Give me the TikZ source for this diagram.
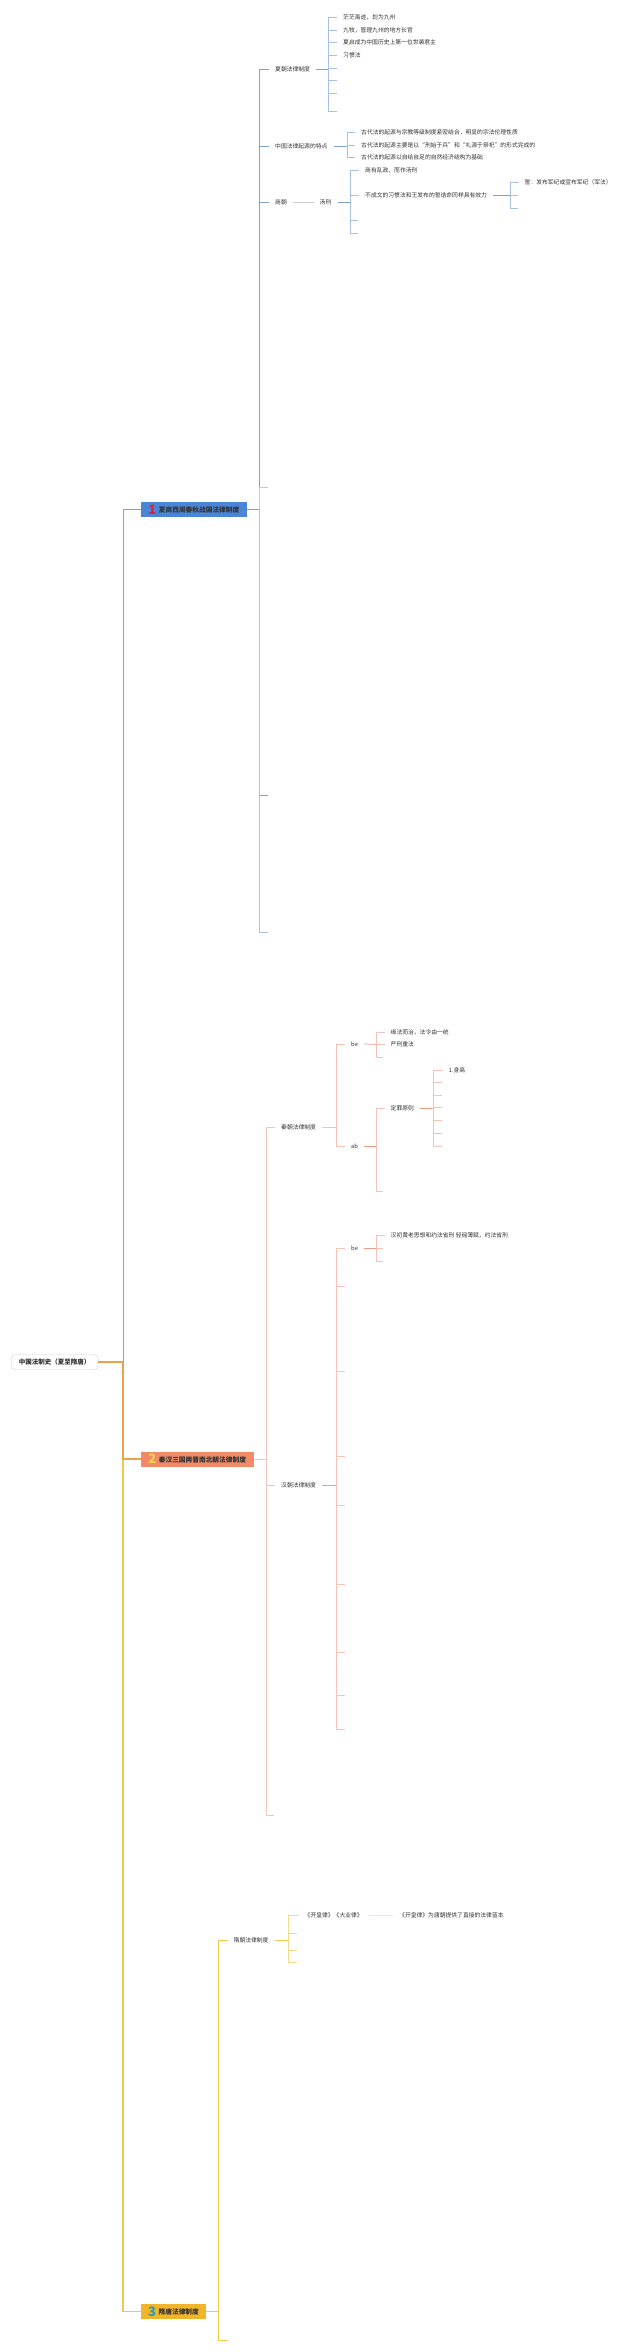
\documentclass[tikz,border=0pt]{standalone}
\usepackage{fontspec}
\setmainfont{Noto Sans CJK SC}
\definecolor{txtc}{HTML}{333333}
\definecolor{rootln}{HTML}{CFCFCF}
\definecolor{blA}{HTML}{7FA3CF}
\definecolor{blB}{HTML}{A6C2E0}
\definecolor{gryl}{HTML}{CCCCCC}
\definecolor{secA}{HTML}{4A86D8}
\definecolor{numA}{HTML}{E0203C}
\definecolor{orA}{HTML}{F0A04B}
\definecolor{pkA}{HTML}{F5C2B8}
\definecolor{pkB}{HTML}{EE9C84}
\definecolor{secB}{HTML}{F08A68}
\definecolor{numB}{HTML}{F9D24C}
\definecolor{ylA}{HTML}{F2C84E}
\definecolor{ylB}{HTML}{F5D98A}
\definecolor{ylC}{HTML}{F9E9B8}
\definecolor{secC}{HTML}{F2B52A}
\definecolor{numC}{HTML}{2A9DB5}
\newcommand{\secnum}[2]{\raisebox{-1.6pt}{\fontsize{13}{13}\selectfont\bfseries\textcolor{#1}{#2}}\hspace{2.5pt}}
\tikzset{%
    lf/.style={anchor=west,inner xsep=6pt,inner ysep=1pt,font=\fontsize{5.8}{7}\selectfont,text=txtc},
    sec/.style={anchor=west,minimum height=15pt,inner xsep=0pt,inner ysep=0pt,font=\fontsize{6.7}{8}\selectfont\bfseries,text=txtc},
    rt/.style={draw=rootln,fill=white,rounded corners=4pt,minimum width=87pt,minimum height=15pt,inner sep=0pt,font=\fontsize{6.5}{8}\selectfont\bfseries,text=txtc},
    bl1/.style={draw=blA,line width=0.8pt},
    bl2/.style={draw=blB,line width=0.7pt},
    gr/.style={draw=gryl,line width=0.7pt},
    pk1/.style={draw=pkA,line width=0.8pt},
    pk2/.style={draw=pkB,line width=0.7pt},
    yl1/.style={draw=ylA,line width=0.8pt},
    yl2/.style={draw=ylB,line width=0.7pt}
}
\begin{document}
\begin{tikzpicture}[x=1pt,y=-1pt]
        \fill[white] (0,0) rectangle (640,2352);
        \useasboundingbox (0,0) rectangle (640,2352);

        \node[rt] (r) at (54.7,1362) {中国法制史（夏至隋唐）};
        \node[sec,fill=secA,minimum width=106pt] (s1) at (140.7,509.3) {\secnum{numA}{1}夏商西周春秋战国法律制度};
        \node[sec,fill=secB,minimum width=112.6pt] (s2) at (140.7,1459) {\secnum{numB}{2}秦汉三国两晋南北朝法律制度};
        \node[sec,fill=secC,minimum width=65.3pt] (s3) at (140.7,2311.5) {\secnum{numC}{3}隋唐法律制度};
        \coordinate (rj) at (123,1362);
        \draw[blA,line width=0.9pt] (rj) |- (s1.west);
        \draw[ylA,line width=1.2pt] (rj) |- (s3.west);
        \draw[orA,line width=2pt] (r.east) -- (rj) |- (s2.west);

        \coordinate (t1) at (259.5,509.3);
        \node[lf] (x1) at (269,69) {夏朝法律制度};
        \node[lf] (x2) at (269,146) {中国法律起源的特点};
        \node[lf] (x3) at (269,202) {商朝};
        \coordinate (x4) at (268,487.7);
        \coordinate (x5) at (268,795);
        \coordinate (x6) at (268,932);
        \draw[bl1] (s1.east) -- (t1);
        \draw[bl1] (t1) |- (x1.west);
        \draw[bl1] (t1) |- (x2.west);
        \draw[bl1] (t1) |- (x3.west);
        \draw[bl1] (t1) |- (x5);
        \draw[bl2] (t1) |- (x6);
        \draw[gr] (t1) |- (x4);

        \coordinate (f1) at (328,69);
        \node[lf] (x11) at (337,17.3) {茫茫禹迹，划为九州};
        \node[lf] (x12) at (337,30) {九牧，管理九州的地方长官};
        \node[lf] (x13) at (337,42.7) {夏启成为中国历史上第一位世袭君主};
        \node[lf] (x14) at (337,55.7) {习惯法};
        \coordinate (x15) at (337,68.3);
        \coordinate (x16) at (337,80.7);
        \coordinate (x17) at (337,93.3);
        \coordinate (x18) at (337,111.7);
        \draw[bl1] (x1.east) -- (f1);
        \draw[bl2] (f1) |- (x11.west);
        \draw[bl2] (f1) |- (x12.west);
        \draw[bl2] (f1) |- (x13.west);
        \draw[bl2] (f1) |- (x14.west);
        \draw[bl2] (f1) |- (x15);
        \draw[bl2] (f1) |- (x16);
        \draw[bl2] (f1) |- (x17);
        \draw[bl2] (f1) |- (x18);

        \coordinate (f2) at (347,146);
        \node[lf] (x21) at (355,132) {古代法的起源与宗教等级制度紧密结合，明显的宗法伦理性质};
        \node[lf] (x22) at (355,145.7) {古代法的起源主要是以“刑始于兵”和“礼源于祭祀”的形式完成的};
        \node[lf] (x23) at (355,157.7) {古代法的起源以自给自足的自然经济结构为基础};
        \draw[bl1] (x2.east) -- (f2);
        \draw[bl2] (f2) |- (x21.west);
        \draw[bl2] (f2) |- (x22.west);
        \draw[bl2] (f2) |- (x23.west);

        \node[lf] (x31) at (313.5,202) {汤刑};
        \draw[gr] (x3.east) -- (x31.west);
        \coordinate (f3) at (350,202);
        \node[lf] (x311) at (359,170.7) {商有乱政，而作汤刑};
        \node[lf] (x312) at (359,195.7) {不成文的习惯法和王发布的誓诰命同样具有效力};
        \coordinate (x313) at (358,220.7);
        \coordinate (x314) at (358,233.3);
        \draw[bl1] (x31.east) -- (f3);
        \draw[bl2] (f3) |- (x311.west);
        \draw[bl2] (f3) |- (x312.west);
        \draw[bl2] (f3) |- (x313);
        \draw[bl2] (f3) |- (x314);

        \coordinate (f4) at (510,195.7);
        \node[lf] (x3121) at (518.5,182.7) {誓：发布军纪或宣布军纪（军法）};
        \coordinate (x3122) at (518,195.7);
        \coordinate (x3123) at (518,208.3);
        \draw[bl1] (x312.east) -- (f4);
        \draw[bl2] (f4) |- (x3121.west);
        \draw[bl2] (f4) |- (x3122);
        \draw[bl2] (f4) |- (x3123);

        \coordinate (t2) at (266,1459);
        \node[lf] (y1) at (275,1127.7) {秦朝法律制度};
        \node[lf] (y2) at (275,1485) {汉朝法律制度};
        \coordinate (y3) at (274,1815.7);
        \draw[pk1] (s2.east) -- (t2);
        \draw[pk1] (t2) |- (y1.west);
        \draw[pk1] (t2) |- (y2.west);
        \draw[pk1] (t2) |- (y3);

        \coordinate (g1) at (336,1127.7);
        \node[lf] (y11) at (345,1044) {be};
        \node[lf] (y12) at (345,1146) {ab};
        \draw[pk1] (y1.east) -- (g1);
        \draw[pk1] (g1) |- (y11.west);
        \draw[pk1] (g1) |- (y12.west);

        \coordinate (g2) at (376,1044.3);
        \node[lf] (y111) at (384.5,1032.3) {缘法而治，法令由一统};
        \node[lf] (y112) at (384.5,1044.3) {严刑重法};
        \coordinate (y113) at (383,1057.3);
        \draw[pk2] (y11.east) -- (g2);
        \draw[pk1] (g2) |- (y111.west);
        \draw[pk1] (g2) |- (y112.west);
        \draw[pk1] (g2) |- (y113);

        \coordinate (g3) at (376,1146);
        \node[lf] (y121) at (384.5,1108.3) {定罪原则};
        \coordinate (y122) at (383,1191);
        \draw[pk2] (y12.east) -- (g3);
        \draw[pk1] (g3) |- (y121.west);
        \draw[pk1] (g3) |- (y122);

        \coordinate (g4) at (433.3,1108.3);
        \node[lf] (y1211) at (442.5,1070) {1.身高};
        \coordinate (y1212) at (441.7,1082.3);
        \coordinate (y1213) at (441.7,1095);
        \coordinate (y1214) at (441.7,1107.7);
        \coordinate (y1215) at (441.7,1120.7);
        \coordinate (y1216) at (441.7,1133.3);
        \coordinate (y1217) at (441.7,1146);
        \draw[pk2] (y121.east) -- (g4);
        \draw[pk1] (g4) |- (y1211.west);
        \draw[pk1] (g4) |- (y1212);
        \draw[pk1] (g4) |- (y1213);
        \draw[pk1] (g4) |- (y1214);
        \draw[pk1] (g4) |- (y1215);
        \draw[pk1] (g4) |- (y1216);
        \draw[pk1] (g4) |- (y1217);

        \coordinate (g5) at (336,1485);
        \node[lf] (y21) at (345,1248.3) {be};
        \coordinate (y22) at (344.5,1286.7);
        \coordinate (y23) at (344.5,1371.7);
        \coordinate (y24) at (344.5,1456.7);
        \coordinate (y25) at (344.5,1505.7);
        \coordinate (y26) at (344.5,1584.3);
        \coordinate (y27) at (344.5,1652.3);
        \coordinate (y28) at (344.5,1695);
        \coordinate (y29) at (344.5,1729);
        \draw[pk2] (y2.east) -- (g5);
        \draw[pk1] (g5) |- (y21.west);
        \draw[pk1] (g5) |- (y22);
        \draw[pk1] (g5) |- (y23);
        \draw[pk1] (g5) |- (y24);
        \draw[pk1] (g5) |- (y25);
        \draw[pk1] (g5) |- (y26);
        \draw[pk1] (g5) |- (y27);
        \draw[pk1] (g5) |- (y28);
        \draw[pk1] (g5) |- (y29);

        \coordinate (g6) at (376,1248.3);
        \node[lf] (y211) at (384.5,1235.7) {汉初黄老思想和约法省刑 轻徭薄赋，约法省刑};
        \coordinate (y212) at (383,1248.3);
        \coordinate (y213) at (383,1261);
        \draw[pk2] (y21.east) -- (g6);
        \draw[pk1] (g6) |- (y211.west);
        \draw[pk1] (g6) |- (y212);
        \draw[pk1] (g6) |- (y213);

        \coordinate (t3) at (218.3,2311.5);
        \node[lf] (z1) at (227.5,1940) {隋朝法律制度};
        \coordinate (z2) at (227.7,2340.7);
        \draw[yl1] (s3.east) -- (t3);
        \draw[yl1] (t3) |- (z1.west);
        \draw[yl1] (t3) |- (z2);

        \coordinate (h1) at (288.3,1940);
        \node[lf] (z11) at (298.5,1915.7) {《开皇律》《大业律》};
        \coordinate (z12) at (296.7,1933.3);
        \coordinate (z13) at (296.7,1950);
        \coordinate (z14) at (296.7,1962.7);
        \draw[yl1] (z1.east) -- (h1);
        \draw[yl2] (h1) |- (z11.west);
        \draw[yl2] (h1) |- (z12);
        \draw[yl2] (h1) |- (z13);
        \draw[yl2] (h1) |- (z14);

        \node[lf] (z111) at (393,1915.7) {《开皇律》为唐朝提供了直接的法律蓝本};
        \draw[draw=ylC,line width=0.7pt] (z11.east) -- (z111.west);
    \end{tikzpicture}
\end{document}
